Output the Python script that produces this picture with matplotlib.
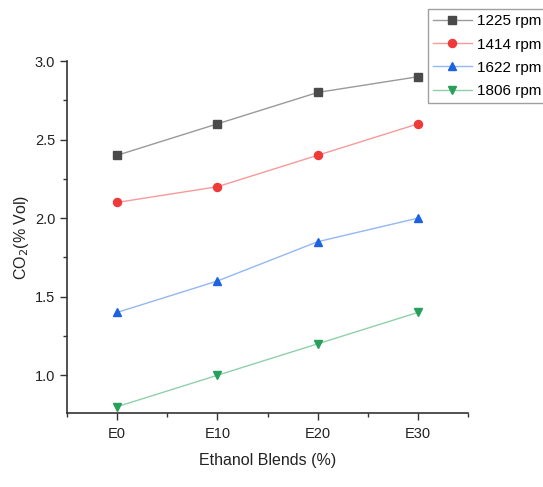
import matplotlib
matplotlib.use("Agg")
import matplotlib.pyplot as plt
from matplotlib.ticker import MultipleLocator, FixedLocator

plt.rcParams['font.family'] = ['Liberation Sans', 'DejaVu Sans']

blends = ["E0", "E10", "E20", "E30"]
series_names = ["1225 rpm", "1414 rpm", "1622 rpm", "1806 rpm"]
co2_1225 = [2.4, 2.6, 2.8, 2.9]
co2_1414 = [2.1, 2.2, 2.4, 2.6]
co2_1622 = [1.4, 1.6, 1.85, 2.0]
co2_1806 = [0.8, 1.0, 1.2, 1.4]

series = [co2_1225, co2_1414, co2_1622, co2_1806]
markers = ["s", "o", "^", "v"]
mcolors = ["#4a4a4a", "#f03a3a", "#1d63e0", "#27a05a"]
lcolors = ["#9a9a9a", "#f79a9a", "#93b8f3", "#8fd0aa"]

fig = plt.figure(figsize=(5.43, 4.87), dpi=100)
ax = fig.add_axes([0.1234, 0.152, 0.7386, 0.7227])

x = list(range(len(blends)))
handles = []
for ys, name, m, mc, lc in zip(series, series_names, markers, mcolors, lcolors):
    h, = ax.plot(x, ys, color=lc, lw=1.0, marker=m, ms=5.8,
                 markerfacecolor=mc, markeredgecolor=mc, label=name)
    handles.append(h)

ax.set_xlim(-0.5, 3.5)
ax.set_ylim(0.76, 3.0)
ax.set_xticks(x)
ax.set_xticklabels(blends)
ax.xaxis.set_minor_locator(FixedLocator([-0.5, 0.5, 1.5, 2.5, 3.5]))
ax.yaxis.set_major_locator(MultipleLocator(0.5))
ax.yaxis.set_minor_locator(MultipleLocator(0.25))

for s in ["top", "right"]:
    ax.spines[s].set_visible(False)
for s in ["left", "bottom"]:
    ax.spines[s].set_color("#333333")
    ax.spines[s].set_linewidth(1.2)

ax.tick_params(axis="both", which="major", direction="out", length=5, width=1.0,
               color="#333333", labelsize=10.5, labelcolor="#222222")
ax.tick_params(axis="x", which="major", pad=5)
ax.tick_params(axis="both", which="minor", direction="out", length=3, width=1.0,
               color="#333333")

ax.set_xlabel("Ethanol Blends (%)", fontsize=11.5, color="#222222", labelpad=9)
ax.set_ylabel("CO$_2$(% Vol)", fontsize=11.5, color="#222222", labelpad=3)

leg = fig.legend(handles=handles, loc="upper left",
                 bbox_to_anchor=(428 / 543, 1 - 9 / 487),
                 fontsize=11, frameon=True, fancybox=False,
                 handlelength=2.5, handletextpad=0.35, labelspacing=0.6,
                 borderpad=0.35, borderaxespad=0)
leg.get_frame().set_edgecolor("#888888")
leg.get_frame().set_linewidth(1.0)

fig.savefig("out.png", dpi=100)
